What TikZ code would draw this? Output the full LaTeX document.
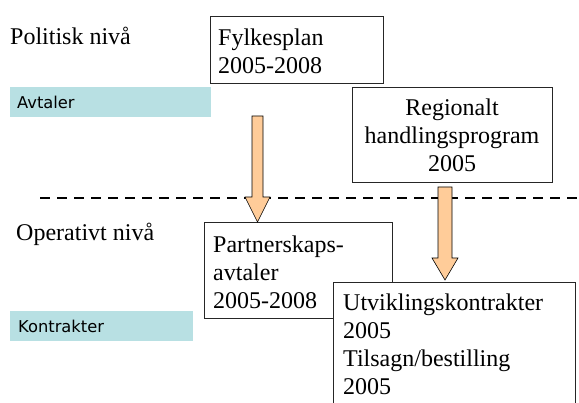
\documentclass[tikz,border=0pt]{standalone}
\usepackage{fontspec}
\newfontfamily\timesx{Liberation Serif}
\newfontfamily\labelsans{DejaVu Sans}
\definecolor{labcyan}{RGB}{184,224,227}
\definecolor{arrowpeach}{RGB}{255,204,153}
\tikzset{
  bigtext/.style={font=\timesx\fontsize{24}{28}\selectfont, inner sep=0pt, align=left},
  bigline/.style={font=\timesx\fontsize{24}{28}\selectfont, inner sep=0pt, anchor=base west},
  smalltext/.style={font=\labelsans\fontsize{16.3}{19}\selectfont, inner sep=0pt, anchor=base west},
  whitebox/.style={draw=black!85, line width=0.8pt, fill=white, inner sep=0pt, anchor=north west},
  boxedge/.style={draw=black!85, line width=0.8pt},
  bandbox/.style={fill=labcyan, draw=none, inner sep=0pt, anchor=north west},
  blockarrow/.style={draw=black, line width=0.6pt, fill=arrowpeach, line join=miter},
  divider/.style={line width=2pt, dash pattern=on 10pt off 7pt}
}
\newcommand{\lstr}{\rule{0pt}{19.6pt}}
\begin{document}
\begin{tikzpicture}[x=1pt,y=-1pt]
\useasboundingbox (0,0) rectangle (579,403);

% level labels
\node[bigline] (pol) at (10,45) {Politisk nivå};
\node[bigline] (ope) at (16,241) {Operativt nivå};

% cyan bands
\node[bandbox, minimum width=201pt, minimum height=30pt] (avt) at (10,87) {};
\node[smalltext] (avtt) at (17,109) {Avtaler};
\node[bandbox, minimum width=183pt, minimum height=30pt] (kon) at (10,311) {};
\node[smalltext] (kont) at (18,333) {Kontrakter};

% dashed divider
\coordinate (dl) at (40,198);
\coordinate (dr) at (579,198);
\draw[divider] (dl) -- (dr);

% Fylkesplan
\node[whitebox, minimum width=173pt, minimum height=67pt] (fylk) at (210,16) {};
\node[bigtext, anchor=north west] (fylkt) at (218,25.4) {\lstr Fylkesplan\\2005-2008};

% Regionalt handlingsprogram
\node[whitebox, minimum width=200pt, minimum height=95pt] (reg) at (352,87) {};
\node[bigtext, align=center, anchor=north] (regt) at (452,95.4) {\lstr Regionalt\\handlingsprogram\\2005};

% Partnerskapsavtaler
\node[whitebox, minimum width=188pt, minimum height=96pt] (par) at (204,222) {};
\node[bigtext, anchor=north west] (part) at (213,232.4) {\lstr Partnerskaps-\\avtaler\\2005-2008};

% Utviklingskontrakter (runs past the bottom edge)
\node[fill=white, draw=none, inner sep=0pt, anchor=north west, minimum width=242pt, minimum height=121pt] (utv) at (333,282) {};
\draw[boxedge] (utv.south west) -- (utv.north west) -- (utv.north east) -- (utv.south east);
\node[bigtext, anchor=north west] (utvt) at (343,290.4) {\lstr Utviklingskontrakter\\2005\\Tilsagn/bestilling\\2005};

% block arrows
\draw[blockarrow] (252,116) -- (263,116) -- (263,197) -- (270,197) -- (257.5,222)
  -- (245,197) -- (252,197) -- cycle;
\draw[blockarrow] (438,187) -- (452,187) -- (452,258) -- (458,258) -- (445,280)
  -- (432,258) -- (438,258) -- cycle;
\end{tikzpicture}
\end{document}
